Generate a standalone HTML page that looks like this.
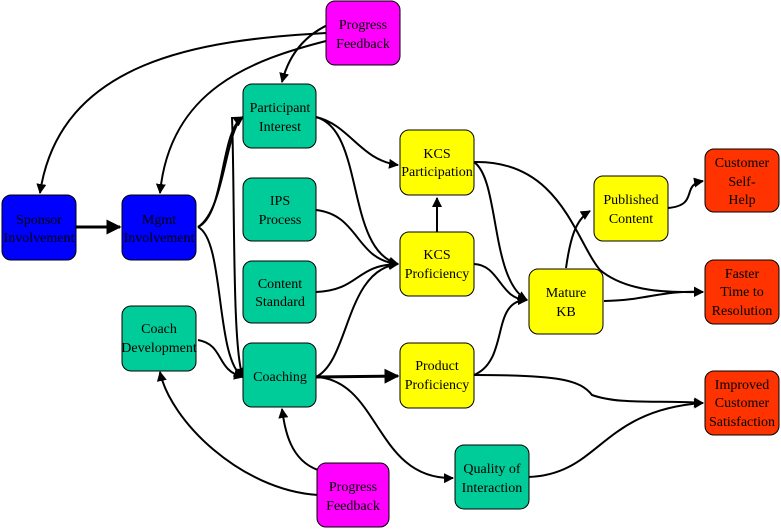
<!DOCTYPE html>
<html><head><style>
html,body{margin:0;padding:0;background:#fff;}
svg{display:block;}
text{font-family:"Liberation Serif",serif;font-size:14px;text-anchor:middle;}
</style></head><body>
<svg width="781" height="530" viewBox="0 0 781 530" xmlns="http://www.w3.org/2000/svg">
<defs><marker id="a" viewBox="0 0 10 10" refX="9" refY="5" markerWidth="5" markerHeight="5" orient="auto"><path d="M0,0L10,5L0,10z" fill="#000"/></marker></defs>
<g fill="none" stroke="#000" stroke-width="2" marker-end="url(#a)">
<path d="M326,33 C200,40 60,60 40,193"/>
<path d="M330,40 C250,60 170,90 160,193"/>
<path d="M340,20 C310,30 290,50 282,82"/>
<path d="M76,227 L120,227" stroke-width="3"/>
<path d="M198,227 C225,215 220,130 243,117"/>
<path d="M198,227 C225,210 225,130 243,117"/>
<path d="M198,227 C225,240 215,360 243,377"/>
<path d="M198,340 C225,345 215,370 243,377"/>
<path d="M232,117 C235,200 232,350 243,377"/>
<path d="M318,470 C290,460 285,430 282,409"/>
<path d="M318,495 C240,490 170,420 160,372"/>
<path d="M316,117 C350,125 360,160 398,165"/>
<path d="M316,117 C365,130 345,250 398,264"/>
<path d="M316,210 C360,215 355,260 398,264"/>
<path d="M316,292 C360,290 355,265 398,264"/>
<path d="M316,377 C350,360 345,270 398,264"/>
<path d="M316,377 L398,376" stroke-width="3"/>
<path d="M316,377 C380,380 375,480 453,478"/>
<path d="M437,232 L437,198"/>
<path d="M474,162 C500,180 490,280 527,300"/>
<path d="M474,264 C500,265 500,300 527,300"/>
<path d="M474,375 C510,360 490,300 527,300"/>
<path d="M474,162 C560,160 575,240 600,270 C630,295 680,292 703,292"/>
<path d="M604,301 C650,300 660,290 703,292"/>
<path d="M566,268 C570,240 575,220 590,211"/>
<path d="M668,208 C700,205 680,185 703,181"/>
<path d="M474,375 C560,375 580,380 592,395 C620,405 660,400 703,403"/>
<path d="M528,477 C600,475 600,410 703,403"/>
</g>
<g stroke="#000" stroke-width="1">
<rect x="326" y="1" width="74" height="64" rx="9" fill="#ff00ff"/>
<rect x="317" y="463" width="72" height="64" rx="9" fill="#ff00ff"/>
<rect x="2" y="195" width="74" height="65" rx="9" fill="#0000ff"/>
<rect x="122" y="195" width="74" height="65" rx="9" fill="#0000ff"/>
<rect x="122" y="306" width="74" height="65" rx="9" fill="#00cc99"/>
<rect x="243" y="84" width="73" height="64" rx="9" fill="#00cc99"/>
<rect x="243" y="178" width="73" height="63" rx="9" fill="#00cc99"/>
<rect x="243" y="261" width="73" height="62" rx="9" fill="#00cc99"/>
<rect x="243" y="343" width="73" height="64" rx="9" fill="#00cc99"/>
<rect x="455" y="445" width="74" height="64" rx="9" fill="#00cc99"/>
<rect x="400" y="130" width="74" height="65" rx="9" fill="#ffff00"/>
<rect x="400" y="232" width="74" height="64" rx="9" fill="#ffff00"/>
<rect x="400" y="343" width="74" height="65" rx="9" fill="#ffff00"/>
<rect x="529" y="269" width="74" height="65" rx="9" fill="#ffff00"/>
<rect x="594" y="176" width="74" height="65" rx="9" fill="#ffff00"/>
<rect x="705" y="149" width="74" height="63" rx="9" fill="#ff3300"/>
<rect x="705" y="260" width="74" height="64" rx="9" fill="#ff3300"/>
<rect x="705" y="371" width="74" height="64" rx="9" fill="#ff3300"/>
</g>
<g fill="#000">
<text x="363" y="29">Progress</text><text x="363" y="48">Feedback</text>
<text x="353" y="491">Progress</text><text x="353" y="510">Feedback</text>
<text x="39" y="224">Sponsor</text><text x="39" y="242">Involvement</text>
<text x="159" y="224">Mgmt</text><text x="159" y="242">Involvement</text>
<text x="159" y="333">Coach</text><text x="159" y="352">Development</text>
<text x="280" y="112">Participant</text><text x="280" y="131">Interest</text>
<text x="280" y="205">IPS</text><text x="280" y="224">Process</text>
<text x="280" y="288">Content</text><text x="280" y="306">Standard</text>
<text x="280" y="381">Coaching</text>
<text x="492" y="473">Quality of</text><text x="492" y="492">Interaction</text>
<text x="437" y="158">KCS</text><text x="437" y="176">Participation</text>
<text x="437" y="259">KCS</text><text x="437" y="278">Proficiency</text>
<text x="437" y="370">Product</text><text x="437" y="389">Proficiency</text>
<text x="566" y="297">Mature</text><text x="566" y="316">KB</text>
<text x="631" y="204">Published</text><text x="631" y="223">Content</text>
<text x="742" y="167">Customer</text><text x="742" y="186">Self-</text><text x="742" y="204">Help</text>
<text x="742" y="278">Faster</text><text x="742" y="296">Time to</text><text x="742" y="315">Resolution</text>
<text x="742" y="389">Improved</text><text x="742" y="407">Customer</text><text x="742" y="426">Satisfaction</text>
</g>
</svg>
</body></html>
